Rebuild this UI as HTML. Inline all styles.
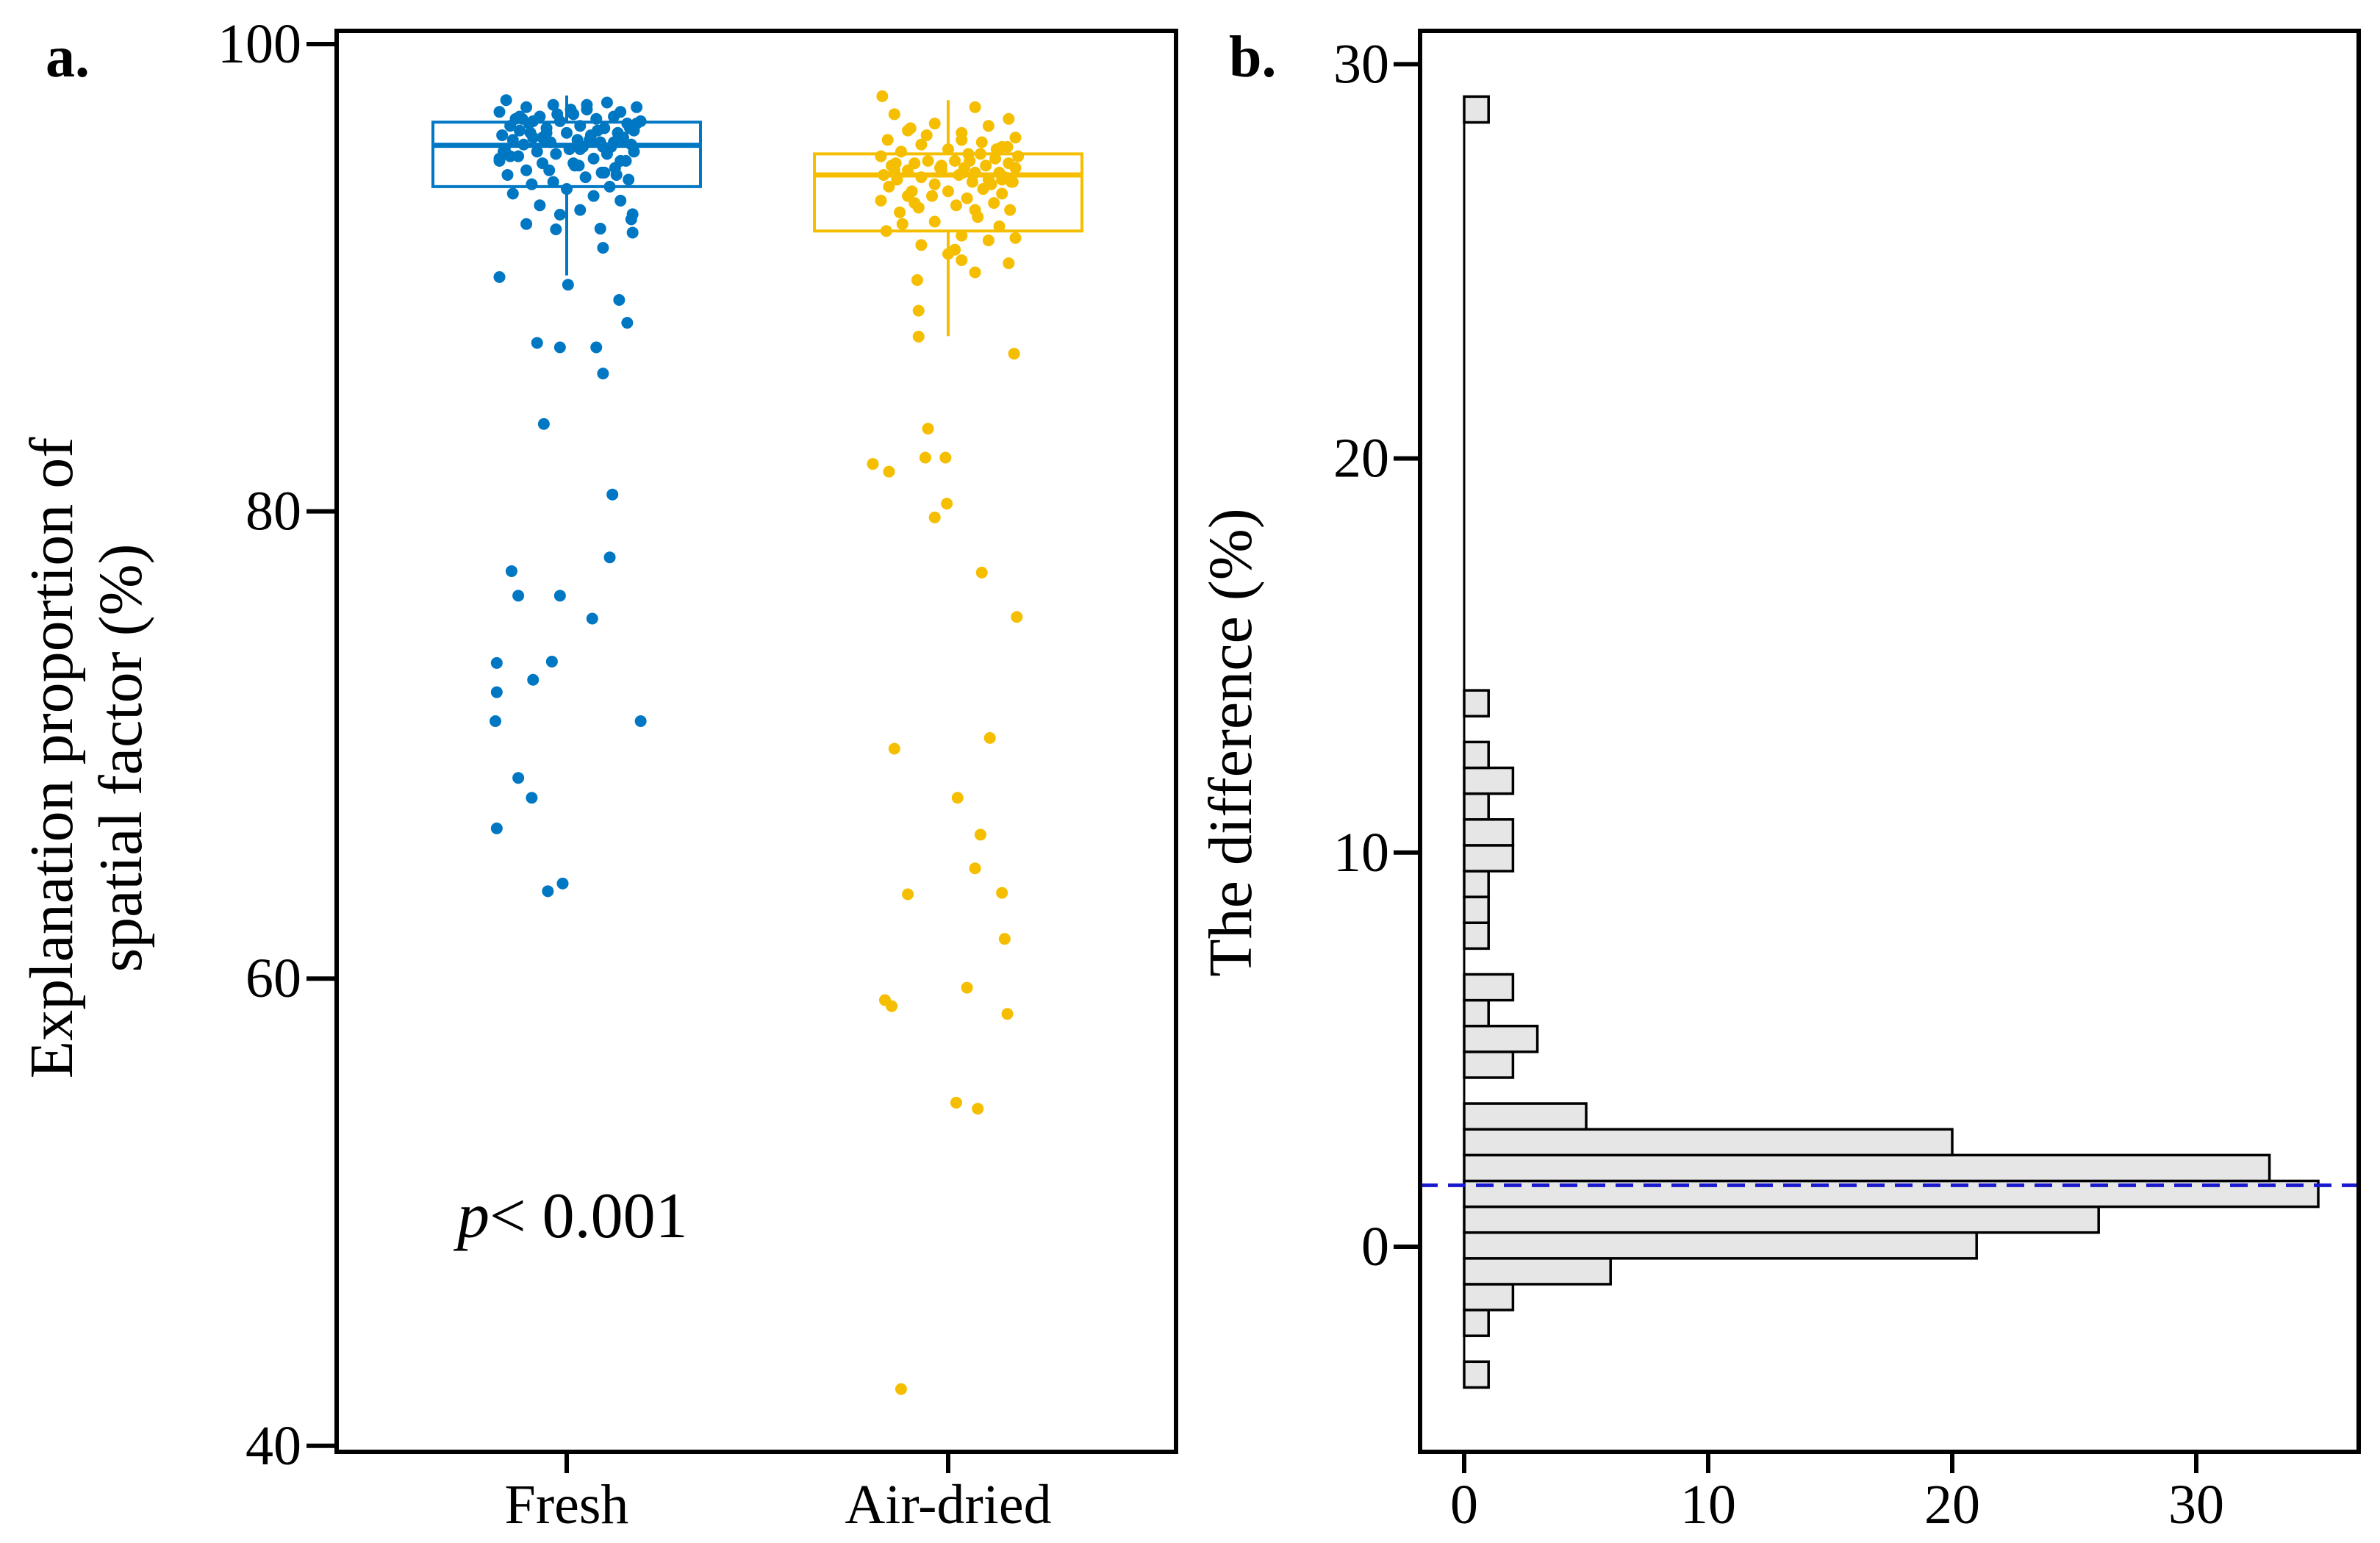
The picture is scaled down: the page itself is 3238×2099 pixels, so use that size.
<!DOCTYPE html>
<html><head><meta charset="utf-8"><style>
html,body{margin:0;padding:0;background:#fff;}
svg{display:block;font-family:"Liberation Serif",serif;}
</style></head><body>
<svg id="chart" width="3238" height="2099" viewBox="0 0 3238 2099" xmlns="http://www.w3.org/2000/svg">
<rect x="0" y="0" width="3238" height="2099" fill="#fff"/>
<text x="62" y="104" font-size="80" font-weight="bold">a.</text>
<text x="1672" y="104" font-size="80" font-weight="bold">b.</text>
<g font-size="84" text-anchor="middle">
<text transform="translate(98,1031) rotate(-90)">Explanation proportion of</text>
<text transform="translate(192,1031) rotate(-90)">spatial factor (%)</text>
</g>
<text font-size="84" text-anchor="middle" transform="translate(1702,1010) rotate(-90)">The difference (%)</text>
<text x="622" y="1683" font-size="88"><tspan font-style="italic">p</tspan>&lt; 0.001</text>
<g id="ga"></g>
<g id="gb"></g>
<rect x="458" y="42" width="1142" height="1933" fill="none" stroke="#000" stroke-width="6"/>
<rect x="1932" y="42" width="1277" height="1933" fill="none" stroke="#000" stroke-width="6"/>
</svg>
<script>
// ---- Panel a data ----
const categories = ["Fresh", "Air-dried"];
const yTicksA = [100, 80, 60, 40];
const boxFresh = [90.1, 93.9, 95.67, 96.66, 97.8];   // min, q1, median, q3, max whisker
const boxAir = [87.5, 92.0, 94.4, 95.3, 97.6];
const freshValues = [97.6,97.5,97.4,97.3,97.3,97.2,97.1,97.1,97.0,96.9,96.9,96.8,96.8,96.7,96.7,96.6,96.6,96.5,96.5,96.4,96.4,96.3,96.3,96.2,96.2,96.1,96.1,96.0,96.0,95.9,95.9,95.8,95.8,95.7,95.7,95.6,95.6,95.5,95.5,95.4,95.4,95.3,95.3,95.2,95.1,95.0,95.0,94.9,94.8,94.7,94.6,94.5,94.4,94.3,94.2,94.1,94.0,93.9,93.8,93.6,93.5,93.3,93.1,92.9,92.7,92.5,92.3,92.1,97.4,96.9,96.5,96.2,95.8,95.3,94.9,94.5,96.7,96.0,95.5,95.1,
 97.2,96.8,96.4,96.0,95.6,95.2,94.8,94.4,97.0,96.6,96.2,95.9,95.4,95.0,94.6,96.3,
 92.07,91.93,91.28,92.72,90.03,89.70,89.05,88.07,87.21,87.02,87.02,85.90,83.74,80.72,78.03,77.44,76.39,76.39,75.41,73.57,73.51,72.79,72.26,71.02,71.02,68.59,67.74,66.43,64.07,63.74];
const freshJitter = [-0.45,0.3,-0.1,0.52,-0.3,0.15,0.4,-0.5,0.05,-0.2,0.35,-0.38,0.22,0.55,-0.05,-0.28,0.45,0.1,-0.42,0.28,-0.15,0.5,-0.35,0.0,0.38,-0.48,0.18,-0.25,0.42,0.08,-0.4,0.25,-0.12,0.48,-0.32,0.12,0.33,-0.46,0.02,-0.22,0.5,-0.08,0.3,-0.36,0.2,-0.5,0.44,-0.18,0.06,0.36,-0.3,0.26,-0.44,0.14,0.46,-0.1,-0.26,0.32,0.0,-0.4,0.2,0.4,-0.2,0.1,-0.05,0.48,-0.3,0.25,0.15,-0.35,0.5,-0.15,0.35,-0.45,0.05,0.28,-0.25,0.42,0.1,-0.5,
 0.03,-0.33,0.47,-0.18,0.27,-0.42,0.09,0.37,-0.07,0.52,-0.27,0.17,-0.47,0.4,-0.13,0.23,
 -0.08,0.49,0.27,0.49,-0.50,0.01,0.39,0.45,-0.22,-0.05,0.22,0.27,-0.17,0.34,0.32,-0.41,-0.36,-0.05,0.19,-0.11,-0.52,-0.25,-0.52,0.55,-0.53,-0.36,-0.26,-0.52,-0.03,-0.14];
const airValues = [97.3,97.0,96.8,96.6,96.5,96.3,96.2,96.0,95.9,95.8,95.7,95.6,95.5,95.4,95.3,95.2,95.2,95.1,95.0,95.0,94.9,94.9,94.8,94.8,94.7,94.7,94.6,94.6,94.5,94.5,94.4,94.4,94.3,94.3,94.2,94.2,94.1,94.1,94.0,93.9,93.8,93.7,93.6,93.5,93.4,93.3,93.2,93.1,93.0,92.9,92.8,92.6,92.4,92.2,92.0,91.8,91.6,91.4,91.2,96.4,95.6,95.0,94.6,94.0,93.5,92.9,92.3,91.7,95.9,94.8,94.2,93.2,
 96.1,95.5,94.9,94.5,94.1,93.7,95.3,94.7,
 97.77,90.75,90.23,90.62,91.02,89.90,88.59,87.48,86.75,83.54,82.03,81.70,82.30,82.30,79.74,80.33,77.38,75.48,69.84,70.30,67.74,66.16,63.61,64.72,63.67,61.70,59.08,58.82,59.61,58.49,54.69,54.43,42.43];
const airJitter = [0.2,-0.4,0.45,-0.1,0.3,-0.3,0.1,0.5,-0.45,0.25,-0.2,0.4,0.0,-0.35,0.15,0.52,-0.5,0.35,-0.15,0.05,0.45,-0.25,0.28,-0.42,0.12,0.5,-0.05,-0.3,0.38,0.2,-0.48,0.08,0.42,-0.2,0.3,-0.38,0.18,0.48,-0.1,-0.44,0.26,0.0,0.4,-0.3,0.14,-0.5,0.34,0.06,-0.22,0.46,-0.36,0.22,-0.1,0.38,-0.46,0.1,0.3,-0.2,0.05,-0.28,0.44,0.16,-0.4,0.32,-0.12,0.2,-0.34,0.5,0.1,-0.05,0.4,-0.25,
 -0.16,0.36,-0.39,0.11,0.47,-0.27,0.24,-0.06,
 -0.49,0.1,0.2,0.45,0.0,-0.23,-0.22,-0.22,0.49,-0.15,-0.56,-0.44,-0.17,-0.02,-0.10,-0.01,0.25,0.51,-0.40,0.31,0.07,0.24,-0.30,0.20,0.40,0.42,-0.47,-0.42,0.14,0.44,0.06,0.22,-0.35];

// ---- Panel b data ----
const binStart = -3.57;
const binWidth = 0.655;
const binCounts = [1,0,1,2,6,21,26,35,33,20,5,0,2,3,1,2,0,1,1,1,2,2,1,2,1,0,1,0,0,0,0,0,0,0,0,0,0,0,0,0,0,0,0,0,0,0,0,0,0,1];
const meanDiff = 1.56;
const yTicksB = [0, 10, 20, 30];
const xTicksB = [0, 10, 20, 30];

const NS = "http://www.w3.org/2000/svg";
function mk(tag, attrs, parent){const e=document.createElementNS(NS,tag);for(const k in attrs)e.setAttribute(k,attrs[k]);parent.appendChild(e);return e;}

const yA = v => 60 + (100 - v) * 31.78;
const xA = i => [771, 1290][i];
const jitterUnit = 183;
const yB = v => 1696 - v * 53.62;
const xB = c => 1992 + c * 33.2;

const ga = document.getElementById('ga');
const gb = document.getElementById('gb');

yTicksA.forEach(t => {
  const l = mk('line',{x1:417,x2:458,y1:yA(t),y2:yA(t),stroke:'#000','stroke-width':6},ga);
  
  
  const tx = mk('text',{x:410,y:yA(t)+25,'font-size':76,'text-anchor':'end'},ga);
  tx.textContent = t;
  
  
});
categories.forEach((c,i) => {
  const l = mk('line',{x1:xA(i),x2:xA(i),y1:1975,y2:2004,stroke:'#000','stroke-width':6},ga);
  
  
  const tx = mk('text',{x:xA(i),y:2072,'font-size':76,'text-anchor':'middle'},ga);
  tx.textContent = c;
  
  
});

function drawBox(stats, i, color, name){
  const cx = xA(i), hw = 182;
  const g = mk('g',{},ga);
  
  
  mk('line',{x1:cx,x2:cx,y1:yA(stats[0]),y2:yA(stats[1]),stroke:color,'stroke-width':4},g);
  mk('line',{x1:cx,x2:cx,y1:yA(stats[3]),y2:yA(stats[4]),stroke:color,'stroke-width':4},g);
  mk('rect',{x:cx-hw,y:yA(stats[3]),width:2*hw,height:yA(stats[1])-yA(stats[3]),fill:'none',stroke:color,'stroke-width':4},g);
  mk('line',{x1:cx-hw,x2:cx+hw,y1:yA(stats[2]),y2:yA(stats[2]),stroke:color,'stroke-width':7},g);
}
function drawPts(vals, jit, i, color, name){
  const g = mk('g',{fill:color},ga);
  
  
  vals.forEach((v,k) => {
    const c = mk('circle',{cx:xA(i)+jit[k % jit.length]*jitterUnit,cy:yA(v),r:8},g);
    
    
  });
}
drawBox(boxFresh,0,'#0077C2','fresh');
drawBox(boxAir,1,'#F5BE00','air-dried');
drawPts(freshValues,freshJitter,0,'#0077C2','fresh');
drawPts(airValues,airJitter,1,'#F5BE00','air-dried');

yTicksB.forEach(t => {
  const l = mk('line',{x1:1896,x2:1932,y1:yB(t),y2:yB(t),stroke:'#000','stroke-width':6},gb);
  
  
  const tx = mk('text',{x:1890,y:yB(t)+25,'font-size':76,'text-anchor':'end'},gb);
  tx.textContent = t;
  
  
});
xTicksB.forEach(t => {
  const l = mk('line',{x1:xB(t),x2:xB(t),y1:1975,y2:2004,stroke:'#000','stroke-width':6},gb);
  
  
  const tx = mk('text',{x:xB(t),y:2072,'font-size':76,'text-anchor':'middle'},gb);
  tx.textContent = t;
  
  
});
const base = mk('line',{x1:xB(0),x2:xB(0),y1:yB(binStart),y2:yB(binStart+binCounts.length*binWidth),stroke:'#000','stroke-width':3},gb);


binCounts.forEach((c,k) => {
  if (c <= 0) return;
  const lo = binStart + k*binWidth, hi = lo + binWidth;
  const r = mk('rect',{x:xB(0),y:yB(hi),width:xB(c)-xB(0),height:yB(lo)-yB(hi),fill:'#e6e6e6',stroke:'#000','stroke-width':3.5},gb);
  
  
});
const ml = mk('line',{x1:1932,x2:3209,y1:yB(meanDiff),y2:yB(meanDiff),stroke:'#1a1acc','stroke-width':5,'stroke-dasharray':'24 14'},gb);


</script>
</body></html>
